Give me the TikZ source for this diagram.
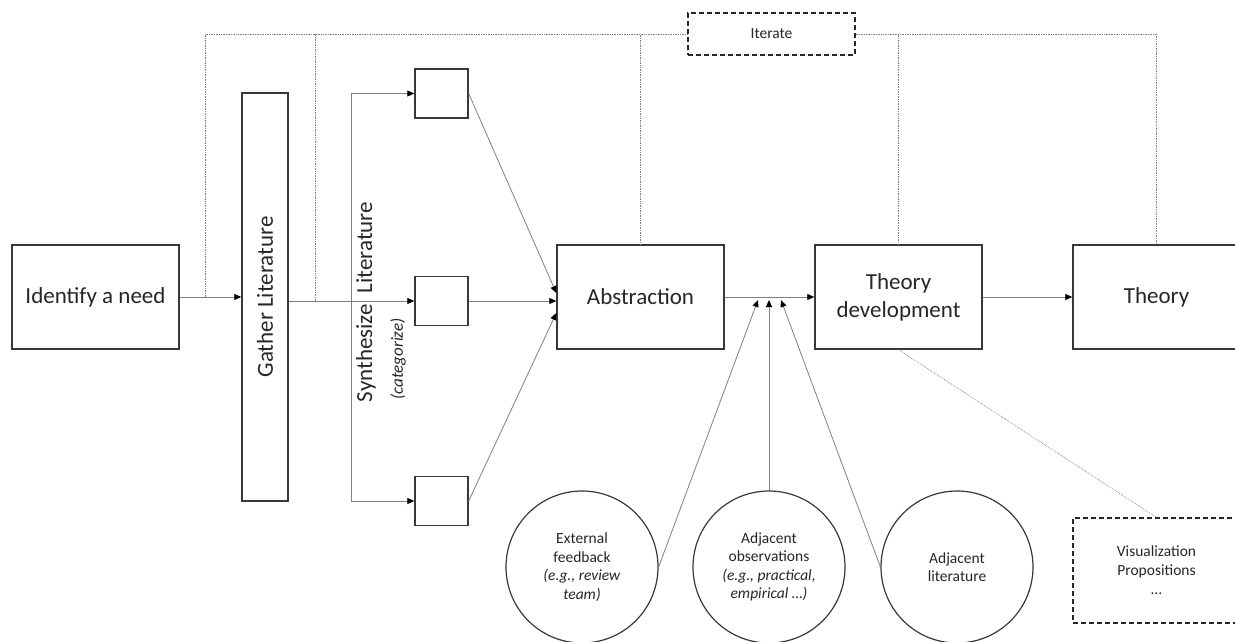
\documentclass[tikz,border=0pt]{standalone}
\usepackage{fontspec}
\setmainfont{Carlito}
\usetikzlibrary{shapes.geometric, arrows, arrows.meta}
\definecolor{boxgray}{gray}{0.22}
\definecolor{linegray}{gray}{0.5}
\definecolor{dotgray}{gray}{0.5}
\definecolor{textgray}{gray}{0.15}
\tikzstyle{arrow} = [-{Triangle[length=7pt,width=6pt,color=black]}, draw=linegray, line width=0.8pt]
\tikzstyle{iterline} = [densely dotted, draw=dotgray, line width=0.7pt]
\tikzset{stage/.style={rectangle,draw=boxgray,line width=1.4pt,minimum width=167pt,minimum height=104pt,inner sep=0pt,align=center,text=textgray,font=\fontsize{23}{28}\selectfont},
         category/.style={rectangle,draw=boxgray,line width=1.4pt,minimum width=53pt,minimum height=49pt,inner sep=0pt},
         source/.style={circle,draw=boxgray,line width=1.2pt,minimum size=152pt,inner sep=0pt,align=center,text=textgray,font=\fontsize{15.5}{18.5}\selectfont},
         note/.style={rectangle,draw=black!85,dash pattern=on 5pt off 3pt,line width=1.2pt,inner sep=0pt,align=center,text=textgray,font=\fontsize{15.5}{19}\selectfont}}
\begin{document}
\begin{tikzpicture}[x=1pt,y=-1pt]
    \path[use as bounding box] (0,0) rectangle (1235,641);
    \clip (0,0) rectangle (1235,641);

    \node [stage] (identify) at (95.5,297) {Identify a need};
    \node [stage, rotate=90, minimum width=408pt, minimum height=46pt] (gather) at (265,297) {Gather Literature};

    \node [category] (cat1) at (441.5,93.5) {};
    \node [category] (cat2) at (441.5,301) {};
    \node [category] (cat3) at (441.5,501) {};
    \node [rotate=90, text=textgray, font=\fontsize{23}{28}\selectfont] (synth) at (366,302) {Synthesize\hspace{11pt}Literature};
    \node [rotate=90, text=textgray, font=\fontsize{17}{20}\selectfont\itshape] (categorize) at (398,359) {(categorize)};

    \node [stage] (abstraction) at (640.5,297) {Abstraction};
    \node [stage] (theorydev) at (898.5,297) {Theory\\development};
    \node [stage] (theory) at (1156.5,297) {Theory};

    \node [note, minimum width=167pt, minimum height=42pt] (iterate) at (771.5,34) {Iterate};
    \node [note, minimum width=167pt, minimum height=105pt] (visual) at (1156.5,570.5) {Visualization\\Propositions\\…};

    \node [source] (feedback) at (582,567) {External\\feedback\\\textit{(e.g., review}\\\textit{team)}};
    \node [source] (observations) at (769,567) {Adjacent\\observations\\\textit{(e.g., practical,}\\\textit{empirical …)}};
    \node [source] (adjlit) at (957,567) {Adjacent\\literature};

    % taps and merge points on the main line
    \coordinate (tap1) at (205,297);
    \coordinate (tap2) at (315,301);
    \coordinate (split) at (351,301);
    \coordinate (mergeA) at (758,300);
    \coordinate (mergeB) at (769,300);
    \coordinate (mergeC) at (781,300);

    \draw [arrow] (identify.east) -- (identify.east -| gather.north);
    \draw [arrow] (gather.south |- cat2.west) -- (cat2.west);
    \draw [arrow] (split) |- (cat1.west);
    \draw [arrow] (split) |- (cat3.west);

    \draw [arrow] (cat1.east) -- ([yshift=4pt]abstraction.west);
    \draw [arrow] (cat2.east) -- (abstraction.west |- cat2.east);
    \draw [arrow] (cat3.east) -- ([yshift=-16pt]abstraction.west);

    \draw [arrow] (abstraction.east) -- (theorydev.west);
    \draw [arrow] (theorydev.east) -- (theory.west);
    \draw [arrow] (feedback.east) -- (mergeA);
    \draw [arrow] (observations.north) -- (mergeB);
    \draw [arrow] (adjlit.west) -- (mergeC);

    % iterate loop
    \draw [iterline] (tap1) |- (iterate.west);
    \draw [iterline] (tap2) -- (tap2 |- iterate.west);
    \draw [iterline] (abstraction.north) -- (abstraction.north |- iterate.west);
    \draw [iterline] (iterate.east) -| (theory.north);
    \draw [iterline] (theorydev.north) -- (theorydev.north |- iterate.east);
    \draw [iterline] (theorydev.south) -- (visual.north);
\end{tikzpicture}
\end{document}
